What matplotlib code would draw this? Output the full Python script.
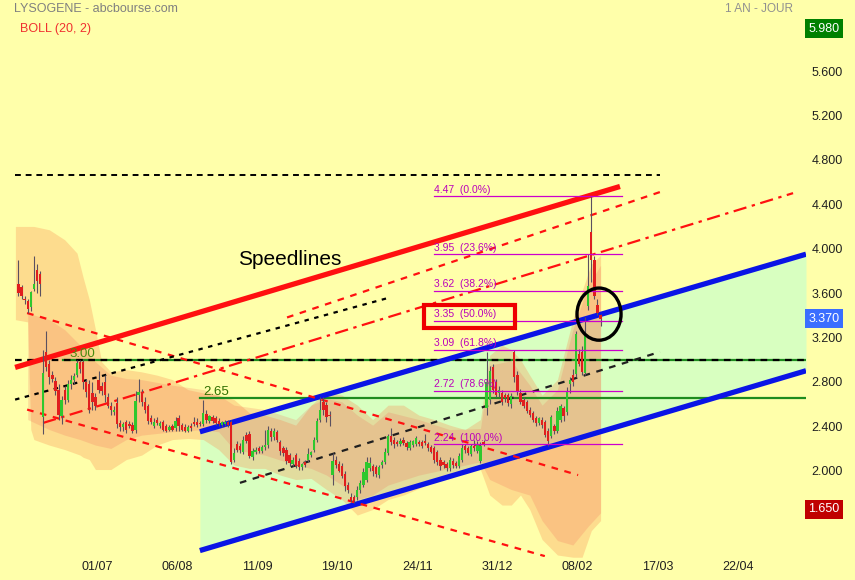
import numpy as np
import matplotlib
matplotlib.use('Agg')
import matplotlib.pyplot as plt
from matplotlib.patches import Ellipse, Rectangle

plt.rcParams['font.family'] = ['Liberation Sans', 'DejaVu Sans']

# daily candles (bar index 0 = first visible session)
opens = [3.68, 3.65, 3.545, 3.53, 3.47, 3.64, 3.81, 3.77, 2.48, 3.07,
         2.96, 2.86, 2.81, 2.73, 2.49, 2.73, 2.64, 2.78, 2.82, 2.86,
         2.98, 2.98, 2.80, 2.78, 2.70, 2.66, 2.82, 2.76, 2.80, 2.66,
         2.58, 2.53, 2.61, 2.43, 2.39, 2.44, 2.42, 2.41, 2.37, 2.68,
         2.71, 2.62, 2.58, 2.47, 2.40, 2.46, 2.40, 2.44, 2.40, 2.37,
         2.40, 2.38, 2.47, 2.41, 2.39, 2.36, 2.40, 2.44, 2.44, 2.43,
         2.42, 2.51, 2.45, 2.48, 2.47, 2.45, 2.41, 2.42, 2.44, 2.44,
         2.10, 2.24, 2.22, 2.17, 2.32, 2.33, 2.12, 2.17, 2.20, 2.18,
         2.21, 2.23, 2.36, 2.30, 2.35, 2.26, 2.20, 2.19, 2.14, 2.06,
         2.14, 2.09, 2.03, 2.08, 2.10, 2.14, 2.19, 2.28, 2.46, 2.62,
         2.59, 2.50, 1.96, 2.10, 2.06, 2.04, 1.97, 1.87, 1.76, 1.76,
         1.76, 1.83, 1.87, 1.92, 2.02, 2.04, 2.03, 1.96, 2.05, 2.08,
         2.16, 2.31, 2.28, 2.26, 2.24, 2.28, 2.25, 2.20, 2.23, 2.24,
         2.26, 2.26, 2.27, 2.24, 2.21, 2.20, 2.17, 2.10, 2.08, 2.06,
         2.02, 2.09, 2.07, 2.04, 2.10, 2.22, 2.20, 2.15, 2.22, 2.18,
         2.09, 2.26, 2.56, 2.64, 2.93, 2.80, 2.70, 2.70, 2.68, 2.68,
         2.60, 3.07, 2.86, 2.70, 2.64, 2.62, 2.55, 2.52, 2.47, 2.43,
         2.46, 2.44, 2.36, 2.31, 2.40, 2.36, 2.46, 2.56, 2.53, 2.78,
         2.86, 2.87, 3.05, 3.07, 2.88, 3.48, 4.15, 3.90, 3.49, 3.40]
highs = [3.90, 3.67, 3.57, 3.55, 3.62, 3.93, 3.86, 3.80, 3.09, 3.26,
         3.00, 2.90, 2.84, 2.78, 2.67, 2.76, 2.82, 2.86, 2.88, 3.00,
         3.00, 3.00, 2.83, 2.82, 2.80, 2.70, 2.90, 2.80, 2.86, 2.70,
         2.62, 2.58, 2.66, 2.46, 2.44, 2.46, 2.45, 2.44, 2.72, 2.83,
         2.74, 2.66, 2.60, 2.50, 2.47, 2.48, 2.45, 2.46, 2.42, 2.41,
         2.42, 2.48, 2.50, 2.43, 2.42, 2.41, 2.43, 2.48, 2.47, 2.45,
         2.64, 2.55, 2.50, 2.50, 2.49, 2.47, 2.45, 2.46, 2.46, 2.46,
         2.20, 2.27, 2.25, 2.31, 2.35, 2.36, 2.20, 2.21, 2.22, 2.23,
         2.37, 2.40, 2.38, 2.38, 2.37, 2.28, 2.22, 2.21, 2.16, 2.12,
         2.16, 2.11, 2.07, 2.10, 2.20, 2.18, 2.30, 2.47, 2.66, 2.66,
         2.62, 2.54, 2.16, 2.13, 2.09, 2.07, 2.00, 1.90, 1.80, 1.78,
         1.86, 1.92, 2.02, 2.12, 2.12, 2.06, 2.05, 2.05, 2.10, 2.20,
         2.33, 2.38, 2.30, 2.28, 2.29, 2.30, 2.27, 2.28, 2.28, 2.31,
         2.28, 2.28, 2.33, 2.26, 2.23, 2.22, 2.19, 2.12, 2.10, 2.08,
         2.12, 2.11, 2.09, 2.16, 2.24, 2.24, 2.22, 2.24, 2.28, 2.27,
         2.26, 2.28, 3.07, 2.94, 2.96, 2.83, 2.76, 2.73, 2.70, 2.70,
         2.70, 3.09, 2.90, 2.74, 2.66, 2.64, 2.57, 2.54, 2.49, 2.48,
         2.48, 2.46, 2.38, 2.50, 2.42, 2.57, 2.60, 2.58, 2.75, 2.84,
         2.92, 3.26, 3.10, 3.12, 3.38, 3.95, 4.47, 3.93, 3.55, 3.41]
lows = [3.57, 3.55, 3.50, 3.42, 3.44, 3.62, 3.60, 3.57, 2.33, 2.90,
        2.78, 2.80, 2.68, 2.46, 2.42, 2.60, 2.62, 2.74, 2.78, 2.84,
        2.88, 2.74, 2.66, 2.52, 2.55, 2.55, 2.70, 2.68, 2.62, 2.56,
        2.50, 2.50, 2.38, 2.36, 2.36, 2.34, 2.38, 2.34, 2.34, 2.62,
        2.58, 2.52, 2.42, 2.42, 2.38, 2.41, 2.38, 2.36, 2.35, 2.36,
        2.36, 2.36, 2.36, 2.36, 2.35, 2.35, 2.36, 2.40, 2.39, 2.40,
        2.40, 2.43, 2.43, 2.43, 2.41, 2.40, 2.39, 2.40, 2.39, 2.06,
        2.08, 2.17, 2.16, 2.15, 2.25, 2.11, 2.10, 2.15, 2.16, 2.16,
        2.19, 2.20, 2.27, 2.28, 2.26, 2.14, 2.13, 2.06, 2.04, 2.04,
        2.02, 2.01, 2.01, 2.03, 2.08, 2.12, 2.17, 2.26, 2.44, 2.50,
        2.44, 2.40, 1.87, 2.02, 1.99, 1.93, 1.82, 1.80, 1.72, 1.71,
        1.74, 1.80, 1.85, 1.90, 2.00, 1.95, 1.94, 1.93, 2.02, 2.06,
        2.14, 2.23, 2.20, 2.22, 2.22, 2.23, 2.19, 2.19, 2.21, 2.22,
        2.22, 2.20, 2.23, 2.18, 2.16, 2.07, 2.05, 2.01, 2.02, 2.00,
        2.00, 2.02, 2.02, 2.02, 2.08, 2.16, 2.14, 2.13, 2.18, 2.16,
        2.07, 2.22, 2.50, 2.60, 2.70, 2.66, 2.66, 2.59, 2.62, 2.58,
        2.56, 2.80, 2.68, 2.60, 2.56, 2.52, 2.48, 2.44, 2.40, 2.41,
        2.38, 2.30, 2.22, 2.29, 2.33, 2.34, 2.44, 2.45, 2.50, 2.70,
        2.76, 2.84, 2.94, 2.86, 2.86, 3.45, 3.70, 3.55, 3.40, 3.30]
closes = [3.60, 3.57, 3.54, 3.46, 3.61, 3.68, 3.71, 3.68, 2.88, 2.93,
          2.84, 2.83, 2.72, 2.50, 2.64, 2.64, 2.78, 2.82, 2.85, 2.97,
          2.92, 2.80, 2.71, 2.55, 2.62, 2.58, 2.73, 2.72, 2.68, 2.58,
          2.55, 2.55, 2.42, 2.39, 2.42, 2.37, 2.40, 2.36, 2.63, 2.71,
          2.62, 2.55, 2.45, 2.44, 2.44, 2.43, 2.43, 2.37, 2.36, 2.39,
          2.37, 2.45, 2.40, 2.37, 2.36, 2.39, 2.38, 2.42, 2.41, 2.42,
          2.52, 2.46, 2.49, 2.45, 2.43, 2.42, 2.44, 2.44, 2.41, 2.08,
          2.16, 2.19, 2.19, 2.28, 2.27, 2.13, 2.18, 2.19, 2.18, 2.21,
          2.23, 2.37, 2.30, 2.36, 2.28, 2.18, 2.16, 2.09, 2.07, 2.10,
          2.04, 2.03, 2.06, 2.05, 2.15, 2.17, 2.28, 2.45, 2.55, 2.55,
          2.48, 2.49, 2.09, 2.05, 2.00, 1.95, 1.86, 1.83, 1.74, 1.73,
          1.83, 1.89, 1.99, 2.08, 2.07, 2.00, 1.97, 2.03, 2.08, 2.17,
          2.31, 2.26, 2.24, 2.24, 2.27, 2.25, 2.21, 2.26, 2.27, 2.29,
          2.24, 2.22, 2.25, 2.20, 2.17, 2.10, 2.08, 2.04, 2.05, 2.02,
          2.10, 2.05, 2.04, 2.13, 2.20, 2.19, 2.16, 2.22, 2.20, 2.24,
          2.22, 2.24, 2.80, 2.90, 2.73, 2.68, 2.73, 2.62, 2.65, 2.61,
          2.67, 2.84, 2.71, 2.62, 2.58, 2.54, 2.50, 2.46, 2.43, 2.47,
          2.41, 2.32, 2.27, 2.48, 2.36, 2.54, 2.58, 2.49, 2.72, 2.82,
          2.80, 3.23, 2.96, 2.89, 3.22, 3.66, 3.90, 3.57, 3.42, 3.37]

# Bollinger (20, 2) envelope
band_x = [-1, 3, 4, 5, 10, 15, 19, 20, 21, 23, 25, 27, 30, 35, 40, 45, 50,
          55, 60, 65, 70, 75, 80, 85, 90, 95, 100, 105, 110, 115, 120, 125,
          130, 135, 140, 145, 150, 153, 157, 160, 163, 166, 170, 175, 180,
          183, 186, 189]
band_up = [4.20, 4.20, 4.20, 4.20, 4.17, 4.08, 3.96, 3.85, 3.74, 3.54, 3.27,
           2.98, 2.89, 2.91, 2.89, 2.86, 2.82, 2.73, 2.70, 2.68, 2.64, 2.52,
           2.50, 2.46, 2.41, 2.59, 2.71, 2.68, 2.59, 2.46, 2.59, 2.59, 2.50,
           2.46, 2.41, 2.37, 2.46, 3.04, 3.13, 3.09, 3.00, 2.86, 2.68, 2.82,
           3.36, 3.62, 3.86, 3.94]
band_lo = [3.36, 3.34, 2.37, 2.28, 2.23, 2.19, 2.15, 2.14, 2.12, 2.10, 2.01,
           2.01, 2.01, 2.10, 2.14, 2.23, 2.28, 2.29, 2.28, 2.19, 2.05, 2.02,
           2.02, 1.96, 1.92, 1.93, 1.83, 1.74, 1.60, 1.65, 1.74, 1.78, 1.84,
           1.90, 1.93, 2.01, 2.01, 1.78, 1.69, 1.69, 1.78, 1.65, 1.38, 1.24,
           1.22, 1.22, 1.46, 1.55]
inner_x = [3, 10, 15, 20, 25, 30, 35, 40, 50, 60, 65, 70, 80, 90, 95, 100,
           105, 110, 115, 120, 130, 140, 150, 153, 160, 166, 170, 175, 180,
           185, 189]
inner_up = [3.42, 3.36, 3.27, 3.13, 2.98, 2.86, 2.83, 2.82, 2.77, 2.73, 2.68,
            2.59, 2.55, 2.46, 2.59, 2.65, 2.62, 2.50, 2.41, 2.53, 2.46, 2.37,
            2.38, 2.95, 2.99, 2.77, 2.59, 2.73, 3.27, 3.67, 3.85]
inner_lo = [2.46, 2.37, 2.32, 2.28, 2.23, 2.20, 2.28, 2.32, 2.35, 2.37, 2.35,
            2.19, 2.14, 2.05, 2.02, 1.96, 1.87, 1.74, 1.78, 1.87, 1.96, 2.02,
            2.08, 1.92, 1.83, 1.78, 1.55, 1.37, 1.33, 1.50, 1.62]

# drawn trend lines: (x0, x1), (y0, y1)
speed_red = ([-1.1, 195.3], [2.93, 4.56])
chan_up = ([58.9, 255.7], [2.35, 3.95])
chan_lo = ([58.9, 255.7], [1.28, 2.90])
down_up = ([2.8, 181.7], [3.42, 1.96])
down_lo = ([2.8, 170.9], [2.55, 1.23])
red_dashdot = ([8.0, 251.5], [2.43, 4.50])
red_dash = ([87.2, 208.3], [3.38, 4.51])
black_dot = ([-1.1, 120.6], [2.64, 3.56])
black_dash = ([71.9, 208.3], [1.89, 3.07])
top_level = ([-1.1, 208.3], [4.66, 4.66])
level_300 = 3.00
level_265 = 2.65

fib_levels = [4.47, 3.95, 3.62, 3.35, 3.09, 2.72, 2.24]
fib_pct = ['0.0%', '23.6%', '38.2%', '50.0%', '61.8%', '78.6%', '100.0%']

date_pos = [25.5, 51.5, 77.5, 103.5, 129.5, 155.5, 181.5, 207.5, 233.5]
date_lab = ['01/07', '06/08', '11/09', '19/10', '24/11', '31/12', '08/02',
            '17/03', '22/04']
price_ticks = [2.0, 2.4, 2.8, 3.2, 3.6, 4.0, 4.4, 4.8, 5.2, 5.6, 6.0]

bg = '#FFFFAA'
fig = plt.figure(figsize=(8.55, 5.8), dpi=100, facecolor=bg)
ax = fig.add_axes([0, 23 / 580, 806 / 855, 557 / 580])
ax.set_facecolor(bg)
ax.set_xlim(-6.0, 255.7)
ax.set_ylim(1.222, 6.24)
for s in ax.spines.values():
    s.set_visible(False)

# channel fill
ax.fill_between(chan_up[0], chan_lo[1], chan_up[1], color='#D8FFC0', lw=0, zorder=1)

# bollinger envelope
ax.fill_between(band_x, band_lo, band_up, color='#FA8C50', alpha=0.30, lw=0, zorder=2)
ax.fill_between(inner_x, inner_lo, inner_up, color='#F06E5A', alpha=0.22, lw=0, zorder=2)

# levels
ax.plot([14.4, 255.7], [level_300, level_300], color='#1E8C1E', lw=1.6, zorder=3)
ax.plot([-1.1, 255.7], [level_300, level_300], color='black', lw=1.6,
        dashes=(3, 2.5), zorder=3)
ax.plot([58.9, 255.7], [level_265, level_265], color='#1E8C1E', lw=1.6, zorder=3)
ax.plot(top_level[0], top_level[1], color='black', lw=1.4, dashes=(3, 2.5), zorder=3)

# speed lines / channels
ax.plot(speed_red[0], speed_red[1], color='#FF1010', lw=3.8, solid_capstyle='butt', zorder=3)
ax.plot(chan_up[0], chan_up[1], color='#0A14E6', lw=3.8, solid_capstyle='butt', zorder=3)
ax.plot(chan_lo[0], chan_lo[1], color='#0A14E6', lw=3.8, solid_capstyle='butt', zorder=3)
ax.plot(down_up[0], down_up[1], color='#FF1010', lw=1.6, dashes=(3, 3), zorder=3)
ax.plot(down_lo[0], down_lo[1], color='#FF1010', lw=1.6, dashes=(3, 3), zorder=3)
ax.plot(red_dash[0], red_dash[1], color='#FF1010', lw=1.6, dashes=(3, 3), zorder=3)
ax.plot(red_dashdot[0], red_dashdot[1], color='#FF1010', lw=1.6,
        dashes=(6, 2.5, 1.5, 2.5), zorder=3)
ax.plot(black_dot[0], black_dot[1], color='black', lw=1.6, dashes=(2, 2.5), zorder=3)
ax.plot(black_dash[0], black_dash[1], color='#202020', lw=1.6, dashes=(3, 3), zorder=3)

# candles
o = np.array(opens)
h = np.array(highs)
l = np.array(lows)
c = np.array(closes)
x = np.arange(len(c))
up = c >= o
ax.vlines(x, l, h, color='#5A5060', lw=0.8, zorder=4)
ax.bar(x[up], (c - o)[up], bottom=o[up], width=0.75, color='#2EC82E', lw=0, zorder=5)
ax.bar(x[~up], (c - o)[~up], bottom=o[~up], width=0.75, color='#E01E1E', lw=0, zorder=5)

# fibonacci retracement
for lev, pct in zip(fib_levels, fib_pct):
    ax.plot([134.9, 196.0], [lev, lev], color='#CC00CC', lw=0.9, zorder=6)
    ax.text(135.0, lev + 0.012, '%.2f  (%s)' % (lev, pct), color='#BB00BB',
            fontsize=7.5, ha='left', va='bottom', zorder=6)

ax.add_patch(Rectangle((131.7, 3.285), 29.5, 0.207, fill=False, ec='#EE0000',
                       lw=3.0, zorder=7))
ax.add_patch(Ellipse((188.5, 3.41), 14.3, 0.47, fill=False, ec='black', lw=2.4, zorder=7))

ax.text(16.7, 3.0, '3.00', color='#4A8A10', fontsize=9.5, ha='left', va='bottom', zorder=6)
ax.text(59.9, 2.65, '2.65', color='#2F6F00', fontsize=9.5, ha='left', va='bottom', zorder=6)
ax.text(71.3, 3.90, 'Speedlines', color='black', fontsize=15, ha='left', va='center', zorder=6)

# axes
ax.set_xticks(date_pos)
ax.set_xticklabels(date_lab)
ax.yaxis.tick_right()
ax.set_yticks(price_ticks)
ax.set_yticklabels(['%.3f' % v for v in price_ticks])
ax.tick_params(axis='both', length=0, labelsize=9, colors='#202020')
ax.tick_params(axis='y', pad=4)
ax.tick_params(axis='x', pad=3)

yt = ax.get_yaxis_transform()
for val, col in [(5.98, '#008000'), (3.37, '#3A6EFF'), (1.65, '#C00000')]:
    ax.text(1.003, val, '%.3f' % val, transform=yt, color='white', fontsize=9,
            ha='left', va='center', clip_on=False, zorder=10,
            bbox=dict(boxstyle='square,pad=0.28', fc=col, ec='none'))

fig.text(14 / 855, 1 - 9 / 580, 'LYSOGENE - abcbourse.com', color='#808080',
         fontsize=9, ha='left', va='center')
fig.text(20 / 855, 1 - 29 / 580, 'BOLL (20, 2)', color='#F03030',
         fontsize=9, ha='left', va='center')
fig.text(793 / 855, 1 - 9 / 580, '1 AN - JOUR', color='#909090',
         fontsize=8.5, ha='right', va='center')

fig.savefig('out.png', dpi=100, facecolor=bg)
